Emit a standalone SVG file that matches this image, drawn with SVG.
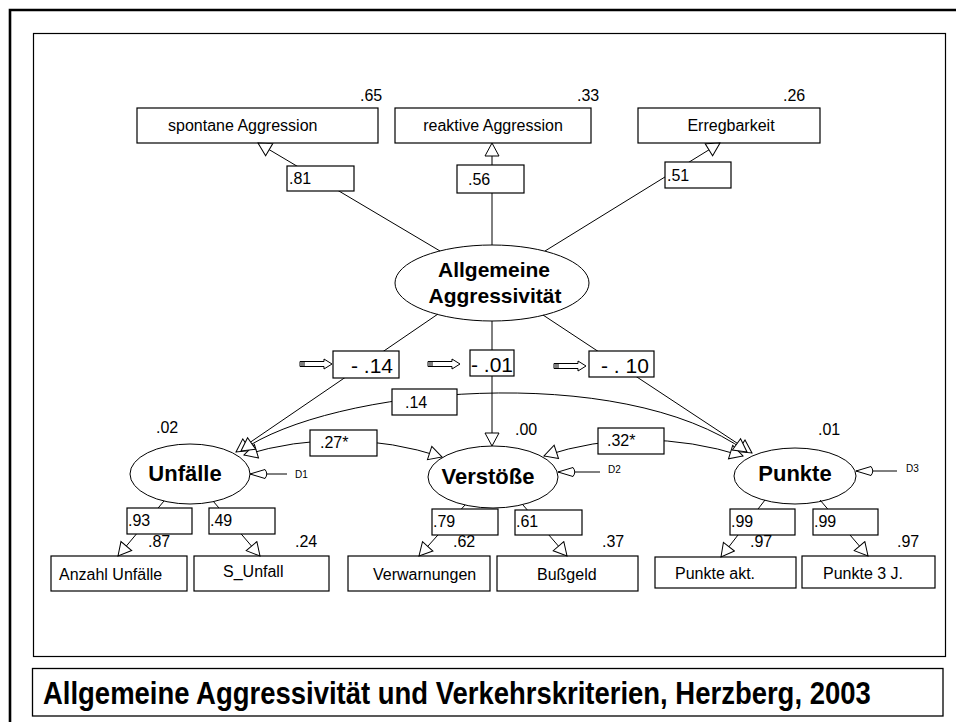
<svg xmlns="http://www.w3.org/2000/svg" width="956" height="722" viewBox="0 0 956 722">
  <defs>
    <!-- open triangular arrowhead used on paths and loadings -->
    <marker id="ah" viewBox="0 0 15 17" refX="14" refY="8" markerWidth="15" markerHeight="17" markerUnits="userSpaceOnUse" orient="auto-start-reverse">
      <path d="M1,1 L14,8 L1,15 Z" fill="#fff" stroke="#000" stroke-width="1"/>
    </marker>
    <!-- slim arrowhead with rounded base for disturbance terms -->
    <marker id="dh" viewBox="-3 -1 22 12" refX="17" refY="5" markerWidth="22" markerHeight="12" markerUnits="userSpaceOnUse" orient="auto">
      <path d="M17,5 L2,0.5 Q-1.5,5 2,9.5 Z" fill="#fff" stroke="#000" stroke-width="1"/>
    </marker>
  </defs>
  <style>
    text { font-family: "Liberation Sans", Arial, Helvetica, sans-serif; fill: #000; }
    .box { fill: #fff; stroke: #000; stroke-width: 1.2; }
    .lat { fill: #fff; stroke: #000; stroke-width: 1; }
    .edge { fill: none; stroke: #000; stroke-width: 1; }
    .arr { marker-end: url(#ah); }
    .cov { marker-start: url(#ah); marker-end: url(#ah); }
    .dist { marker-end: url(#dh); }
    .t16 { font-size: 16px; }
    .mid { text-anchor: middle; }
    .big { font-size: 21px; }
    .latent { font-size: 22px; font-weight: bold; text-anchor: middle; }
    .gen { font-size: 21px; font-weight: bold; text-anchor: middle; }
    .d { font-size: 10px; }
    .blk { fill: #fff; stroke: #000; stroke-width: 1; }
    .title { font-size: 32px; font-weight: bold; }
  </style>

  <rect x="0" y="0" width="956" height="722" fill="#fff"/>

  <!-- page frames -->
  <g id="frame">
    <path d="M10,722 V10 H956" fill="none" stroke="#000" stroke-width="2.6"/>
    <rect x="33.5" y="33.5" width="912" height="623" fill="none" stroke="#000" stroke-width="1.2"/>
    <rect x="32.5" y="668.5" width="910.5" height="47.5" fill="#fff" stroke="#000" stroke-width="1.3"/>
    <!-- condensed caption: horizontally squeezed bold sans -->
    <g transform="translate(43,704) scale(0.856,1)">
      <text class="title" x="0" y="0" textLength="967" lengthAdjust="spacingAndGlyphs">Allgemeine Aggressivität und Verkehrskriterien, Herzberg, 2003</text>
    </g>
  </g>

  <!-- observed indicators: general aggression -->
  <g id="n-spontan">
    <rect class="box" x="137" y="108" width="241" height="35"/>
    <text class="t16" x="168" y="131">spontane Aggression</text>
    <text class="t16" x="360" y="101">.65</text>
  </g>
  <g id="n-reaktiv">
    <rect class="box" x="395" y="108" width="196" height="35"/>
    <text class="t16 mid" x="493" y="131">reaktive Aggression</text>
    <text class="t16" x="577" y="101">.33</text>
  </g>
  <g id="n-erreg">
    <rect class="box" x="638" y="108" width="182" height="35"/>
    <text class="t16 mid" x="731" y="131">Erregbarkeit</text>
    <text class="t16" x="783" y="101">.26</text>
  </g>

  <!-- latent factor -->
  <g id="n-allgemein">
    <ellipse class="lat" cx="492" cy="283" rx="97" ry="38"/>
    <text class="gen" x="494" y="277">Allgemeine</text>
    <text class="gen" x="495" y="303">Aggressivität</text>
  </g>

  <!-- latent criteria -->
  <g id="n-unfaelle">
    <ellipse class="lat" cx="190" cy="474" rx="60" ry="30"/>
    <text class="latent" x="185" y="481">Unfälle</text>
    <text class="t16" x="156" y="433">.02</text>
    <text class="d" x="295" y="478">D1</text>
  </g>
  <g id="n-verstoesse">
    <ellipse class="lat" cx="493" cy="477" rx="65" ry="31"/>
    <text class="latent" x="488" y="484">Verstöße</text>
    <text class="t16" x="515" y="435">.00</text>
    <text class="d" x="608" y="473">D2</text>
  </g>
  <g id="n-punkte">
    <ellipse class="lat" cx="795" cy="476" rx="61" ry="28"/>
    <text class="latent" x="795" y="481">Punkte</text>
    <text class="t16" x="818" y="435">.01</text>
    <text class="d" x="906" y="472">D3</text>
  </g>

  <!-- observed criteria -->
  <g id="n-anzahl">
    <rect class="box" x="51" y="556" width="136" height="35"/>
    <text class="t16" x="59" y="580">Anzahl Unfälle</text>
    <text class="t16" x="148" y="547">.87</text>
  </g>
  <g id="n-sunfall">
    <rect class="box" x="194" y="556" width="135" height="35"/>
    <text class="t16" x="223" y="577">S_Unfall</text>
    <text class="t16" x="295" y="547">.24</text>
  </g>
  <g id="n-verwarn">
    <rect class="box" x="348" y="556" width="142" height="35"/>
    <text class="t16" x="373" y="580">Verwarnungen</text>
    <text class="t16" x="453" y="547">.62</text>
  </g>
  <g id="n-bussgeld">
    <rect class="box" x="497" y="556" width="141" height="35"/>
    <text class="t16" x="537" y="580">Bußgeld</text>
    <text class="t16" x="602" y="547">.37</text>
  </g>
  <g id="n-pakt">
    <rect class="box" x="655" y="557" width="141" height="31"/>
    <text class="t16" x="675" y="579">Punkte akt.</text>
    <text class="t16" x="750" y="547">.97</text>
  </g>
  <g id="n-p3j">
    <rect class="box" x="802" y="556" width="133" height="32"/>
    <text class="t16" x="823" y="579">Punkte 3 J.</text>
    <text class="t16" x="897" y="547">.97</text>
  </g>

  <!-- paths, loadings, covariances and disturbances -->
  <g id="connectors">
    <path class="edge arr" d="M440,251 L258,143"/>
    <path class="edge arr" d="M492,245 L492,143"/>
    <path class="edge arr" d="M545,251 L720,143"/>

    <path class="edge arr" d="M438,314 L236,452"/>
    <path class="edge arr" d="M492,321 L492,446"/>
    <path class="edge arr" d="M543,315 L752,453"/>

    <path class="edge cov" d="M244,455 Q343,425 442,457"/>
    <path class="edge cov" d="M544,456 Q641,424 743,456"/>
    <path class="edge cov" d="M241,451 C330,388 620,360 747,452"/>

    <path class="edge dist" d="M287,474 L250,474"/>
    <path class="edge dist" d="M600,472 L558,472"/>
    <path class="edge dist" d="M897,471 L856,471"/>

    <path class="edge arr" d="M164,501 L118,556"/>
    <path class="edge arr" d="M213,501 L260,556"/>
    <path class="edge arr" d="M465,505 L419,556"/>
    <path class="edge arr" d="M523,505 L567,556"/>
    <path class="edge arr" d="M765,500 L721,557"/>
    <path class="edge arr" d="M820,500 L868,556"/>
  </g>

  <!-- coefficient labels -->
  <g id="coefficients">
    <rect class="box" x="287" y="166" width="67" height="25"/>
    <text class="t16" x="289" y="184">.81</text>
    <rect class="box" x="457" y="165" width="67" height="28"/>
    <text class="t16" x="468" y="185">.56</text>
    <rect class="box" x="665" y="162" width="66" height="26"/>
    <text class="t16" x="667" y="181">.51</text>

    <rect class="box" x="333" y="351" width="66" height="27"/>
    <text class="big" x="351" y="373">- .14</text>
    <rect class="box" x="470" y="350" width="44" height="26"/>
    <text class="big" x="471" y="372">- .01</text>
    <rect class="box" x="589" y="351" width="65" height="26"/>
    <text class="big" x="601" y="373">- . 10</text>

    <rect class="box" x="392" y="389" width="65" height="26"/>
    <text class="t16" x="405" y="408">.14</text>
    <rect class="box" x="310" y="430" width="67" height="26"/>
    <text class="t16" x="320" y="448">.27*</text>
    <rect class="box" x="598" y="428" width="66" height="26"/>
    <text class="t16" x="607" y="446">.32*</text>

    <rect class="box" x="127" y="508" width="65" height="26"/>
    <text class="t16" x="128" y="526">.93</text>
    <rect class="box" x="209" y="508" width="66" height="26"/>
    <text class="t16" x="210" y="526">.49</text>
    <rect class="box" x="432" y="509" width="66" height="26"/>
    <text class="t16" x="433" y="527">.79</text>
    <rect class="box" x="515" y="510" width="67" height="25"/>
    <text class="t16" x="516" y="527">.61</text>
    <rect class="box" x="730" y="509" width="65" height="26"/>
    <text class="t16" x="731" y="527">.99</text>
    <rect class="box" x="813" y="509" width="65" height="26"/>
    <text class="t16" x="814" y="527">.99</text>
  </g>

  <!-- small block arrows pointing at the structural coefficients -->
  <g id="pointers">
    <polygon class="blk" points="300,361.5 324,361.5 324,359 332,364 324,369 324,366.5 300,366.5"/>
    <path d="M302,361.5 V366.5 M304,361.5 V366.5" stroke="#000" stroke-width="1"/>
    <polygon class="blk" points="428,361.5 452,361.5 452,359 460,364 452,369 452,366.5 428,366.5"/>
    <path d="M430,361.5 V366.5 M432,361.5 V366.5" stroke="#000" stroke-width="1"/>
    <polygon class="blk" points="554,363.5 578,363.5 578,361 586,366 578,371 578,368.5 554,368.5"/>
    <path d="M556,363.5 V368.5 M558,363.5 V368.5" stroke="#000" stroke-width="1"/>
  </g>
</svg>
